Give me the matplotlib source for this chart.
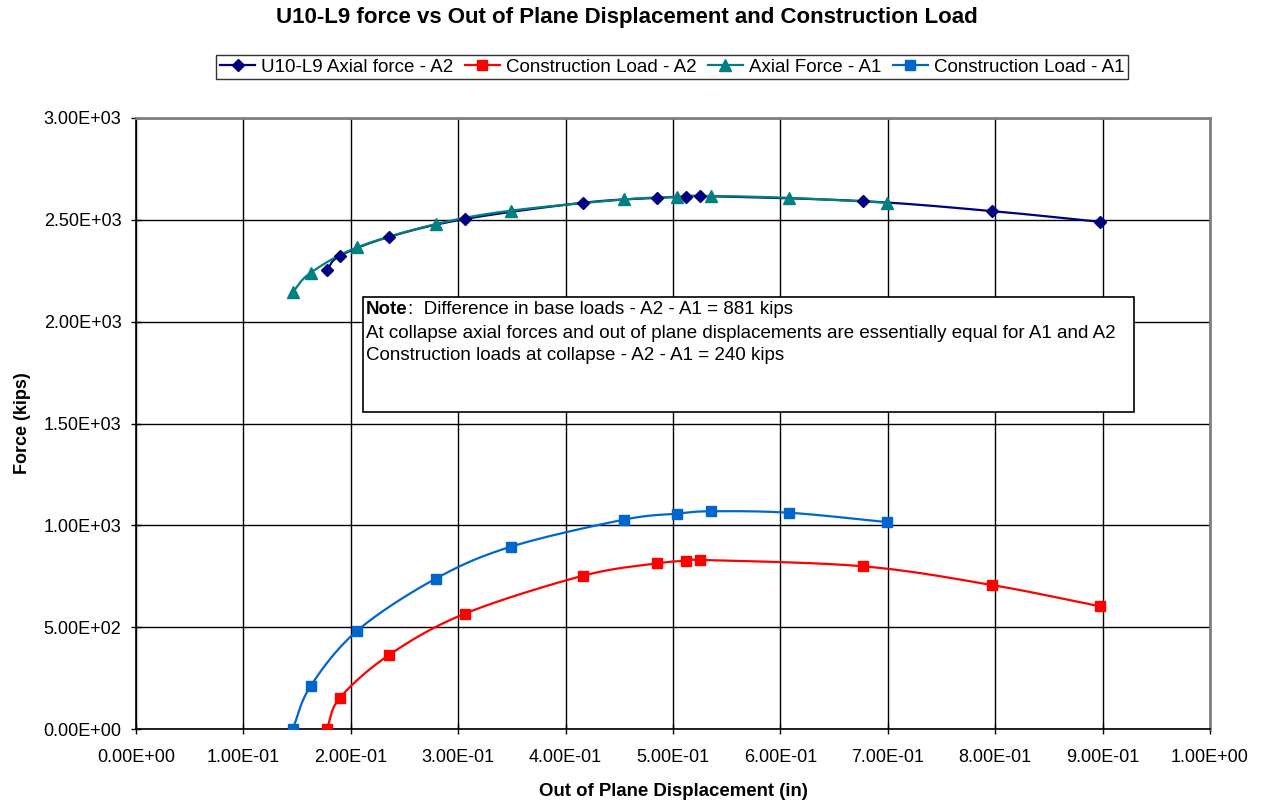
import numpy as np
import matplotlib.pyplot as plt
from matplotlib.ticker import FuncFormatter, MultipleLocator
from matplotlib.patches import Rectangle

plt.rcParams['font.family'] = ['Liberation Sans', 'DejaVu Sans']

# Case A2: displacement (in), axial force and construction load (kips)
disp_a2 = [0.1776, 0.190, 0.236, 0.306, 0.4165, 0.485, 0.512, 0.525, 0.6766, 0.797, 0.898]
axial_a2 = [2253, 2324, 2417, 2504, 2584, 2608, 2613, 2617, 2592, 2543, 2490]
constr_a2 = [0, 154, 365, 566, 753, 813, 826, 830, 799, 707, 602]

# Case A1
disp_a1 = [0.1459, 0.1626, 0.206, 0.279, 0.349, 0.4544, 0.5034, 0.535, 0.6077, 0.699]
axial_a1 = [2145, 2240, 2365, 2479, 2545, 2600, 2613, 2617, 2608, 2584]
constr_a1 = [0, 211, 483, 738, 895, 1028, 1057, 1069, 1062, 1016]

note_lines = [
    "Difference in base loads - A2 - A1 = 881 kips",
    "At collapse axial forces and out of plane displacements are essentially equal for A1 and A2",
    "Construction loads at collapse - A2 - A1 = 240 kips",
]


def smooth(x, y, n=20):
    # Catmull-Rom curve through the points, like a smoothed line chart
    x = np.asarray(x, float)
    y = np.asarray(y, float)
    px = np.concatenate([[2 * x[0] - x[1]], x, [2 * x[-1] - x[-2]]])
    py = np.concatenate([[2 * y[0] - y[1]], y, [2 * y[-1] - y[-2]]])
    t = np.linspace(0, 1, n)
    xs, ys = [], []
    for i in range(1, len(px) - 2):
        for p, out in ((px, xs), (py, ys)):
            p0, p1, p2, p3 = p[i - 1], p[i], p[i + 1], p[i + 2]
            out.append(0.5 * ((2 * p1) + (-p0 + p2) * t
                              + (2 * p0 - 5 * p1 + 4 * p2 - p3) * t ** 2
                              + (-p0 + 3 * p1 - 3 * p2 + p3) * t ** 3))
    return np.concatenate(xs), np.concatenate(ys)


fig = plt.figure(figsize=(12.61, 8.02), dpi=100)
ax = fig.add_axes([136 / 1261, 1 - 729 / 802, (1210 - 136) / 1261, (729 - 118) / 802])

series = [
    (disp_a2, axial_a2, '#000080', 'D', 6.5, "U10-L9 Axial force - A2"),
    (disp_a2, constr_a2, '#FF0000', 's', 7.5, "Construction Load - A2"),
    (disp_a1, axial_a1, '#008080', '^', 8.5, "Axial Force - A1"),
    (disp_a1, constr_a1, '#0066CC', 's', 7.5, "Construction Load - A1"),
]
handles = []
for x, y, c, m, ms, lab in series:
    sx, sy = smooth(x, y)
    ax.plot(sx, sy, color=c, lw=1.6, zorder=3)
    ax.plot(x, y, ls='none', marker=m, ms=ms, color=c, zorder=4)
    h, = ax.plot([], [], color=c, lw=1.6, marker=m, ms=ms, label=lab)
    handles.append(h)

ax.set_xlim(0, 1.0)
ax.set_ylim(0, 3000)
ax.xaxis.set_major_locator(MultipleLocator(0.1))
ax.yaxis.set_major_locator(MultipleLocator(500))
ax.xaxis.set_major_formatter(FuncFormatter(lambda v, p: f"{v:.2E}"))
ax.yaxis.set_major_formatter(FuncFormatter(lambda v, p: f"{v:.2E}"))
ax.tick_params(direction='inout', length=7, width=1, labelsize=13)
ax.tick_params(axis='x', pad=11)
ax.tick_params(axis='y', pad=7)
ax.grid(True, color='black', lw=1)
ax.set_axisbelow(True)
for s in ('top', 'right'):
    ax.spines[s].set_color('#808080')
    ax.spines[s].set_linewidth(2)
for s in ('left', 'bottom'):
    ax.spines[s].set_linewidth(1.2)

ax.set_xlabel("Out of Plane Displacement (in)", fontsize=13.4, fontweight='bold', labelpad=12)
ax.set_ylabel("Force (kips)", fontsize=13, fontweight='bold', labelpad=9)
fig.text(627 / 1261, 1 - 17 / 802, "U10-L9 force vs Out of Plane Displacement and Construction Load",
         ha='center', va='center', fontsize=16, fontweight='bold')

leg = fig.legend(handles=handles, loc='center', bbox_to_anchor=(672 / 1261, 1 - 67 / 802),
                 ncol=4, fontsize=13.5, frameon=True, fancybox=False, numpoints=1,
                 handlelength=1.9, handletextpad=0.3, columnspacing=0.6, borderpad=0.2)
leg.get_frame().set_edgecolor('black')
leg.get_frame().set_linewidth(1)

# note box
x0, x1 = (363 - 136) / 1074, (1134 - 136) / 1074
y1, y0 = (729 - 297) / 611, (729 - 412) / 611
ax.add_patch(Rectangle((x0, y0), x1 - x0, y1 - y0, transform=ax.transAxes,
                       facecolor='white', edgecolor='black', lw=1.2, zorder=5))
tx = (366 - 136) / 1074
ty = [(729 - 310) / 611, (729 - 333) / 611, (729 - 356) / 611]
note = ax.text(tx, ty[0], "Note", transform=ax.transAxes, fontsize=13.5,
               fontweight='bold', va='center', zorder=6)
ax.annotate(":  " + note_lines[0], xy=(1, 0.5), xycoords=note, va='center',
            fontsize=13.5, zorder=6)
for yy, line in zip(ty[1:], note_lines[1:]):
    ax.text(tx, yy, line, transform=ax.transAxes, fontsize=13.5, va='center', zorder=6)

fig.savefig("out.png", dpi=100, facecolor='white')
